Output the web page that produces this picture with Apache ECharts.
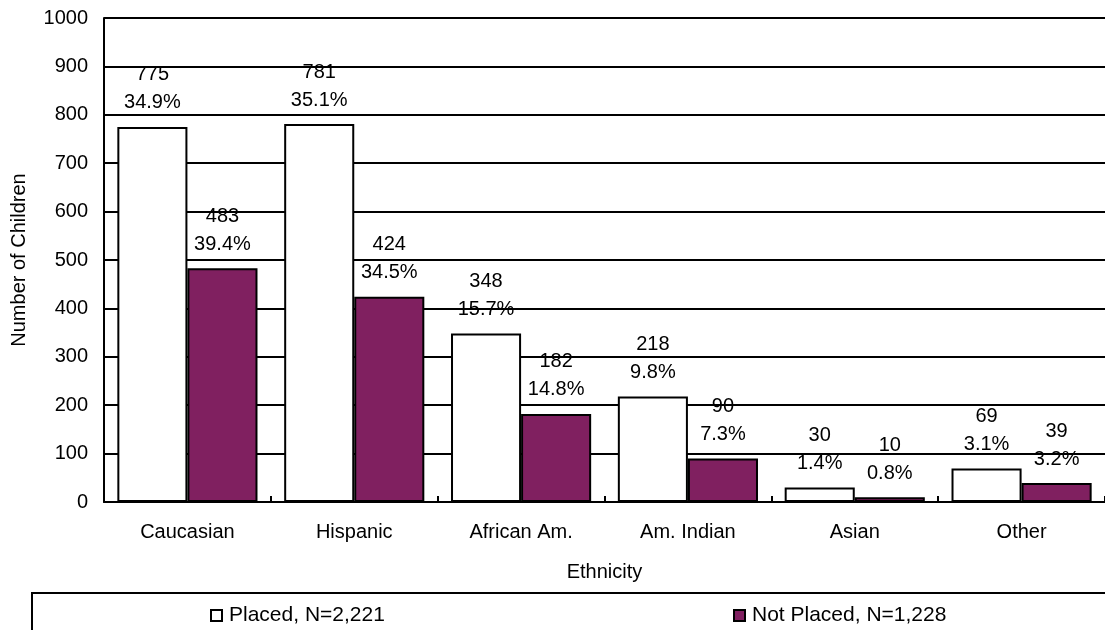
<!DOCTYPE html>
<html>
<head>
<meta charset="utf-8">
<script src="https://cdn.jsdelivr.net/npm/echarts@6/dist/echarts.min.js"></script>
<style>
  html, body { margin: 0; padding: 0; background: #fff; }
  #main_01 { width: 1105px; height: 630px; }
</style>
</head>
<body>
<div id="main_01"></div>
<script>
  // values
  let categories = ['Caucasian', 'Hispanic', 'African Am.', 'Am. Indian', 'Asian', 'Other'];
  let placed = [775, 781, 348, 218, 30, 69];
  let notPlaced = [483, 424, 182, 90, 10, 39];
  let placedPct = ['34.9%', '35.1%', '15.7%', '9.8%', '1.4%', '3.1%'];
  let notPlacedPct = ['39.4%', '34.5%', '14.8%', '7.3%', '0.8%', '3.2%'];
  let yTicks = [0, 100, 200, 300, 400, 500, 600, 700, 800, 900, 1000];

  let font = 'Liberation Sans, Arial, sans-serif';

  let chart = echarts.init(document.getElementById('main_01'));

  function barLabel(pcts) {
    return {
      show: true,
      position: 'top',
      distance: 10,
      color: '#000',
      fontFamily: font,
      fontSize: 20,
      lineHeight: 28,
      formatter: function (p) {
        return p.value + '\n' + pcts[p.dataIndex];
      }
    };
  }

  let legendText = { fontFamily: font, fontSize: 21, color: '#000', padding: [0, 0, 0, 2] };

  let option = {
    animation: false,
    textStyle: { fontFamily: font },
    grid: { left: 104, right: 0, top: 18, bottom: 128, containLabel: false },
    graphic: [{
      type: 'rect',
      shape: { x: 32, y: 593, width: 1100, height: 60 },
      style: { fill: 'none', stroke: '#000', lineWidth: 2 }
    }],
    legend: [{
      data: ['Placed, N=2,221'],
      left: 205, top: 600,
      itemWidth: 11, itemHeight: 11,
      icon: 'rect',
      textStyle: legendText
    }, {
      data: ['Not Placed, N=1,228'],
      left: 728, top: 600,
      itemWidth: 11, itemHeight: 11,
      icon: 'rect',
      textStyle: legendText
    }],
    xAxis: {
      type: 'category',
      data: categories,
      name: 'Ethnicity',
      nameLocation: 'middle',
      nameGap: 60,
      nameTextStyle: { fontFamily: font, fontSize: 20, color: '#000' },
      axisLine: { lineStyle: { color: '#000', width: 2 } },
      axisTick: { show: true, inside: true, length: 6, lineStyle: { color: '#000', width: 2 } },
      axisLabel: { fontFamily: font, fontSize: 20, color: '#000', margin: 20 }
    },
    yAxis: {
      type: 'value',
      min: yTicks[0],
      max: yTicks[yTicks.length - 1],
      interval: yTicks[1] - yTicks[0],
      name: 'Number of Children',
      nameLocation: 'middle',
      nameGap: 75,
      nameTextStyle: { fontFamily: font, fontSize: 20, color: '#000' },
      axisLine: { show: true, lineStyle: { color: '#000', width: 2 } },
      axisTick: { show: false },
      axisLabel: {
        fontFamily: font, fontSize: 20, color: '#000', margin: 16,
        formatter: function (v) { return String(v); }
      },
      splitLine: { lineStyle: { color: '#000', width: 2 } }
    },
    series: [{
      name: 'Placed, N=2,221',
      type: 'bar',
      data: placed,
      barGap: '0%',
      barCategoryGap: '16%',
      itemStyle: { color: '#fff', borderColor: '#000', borderWidth: 2 },
      label: barLabel(placedPct)
    }, {
      name: 'Not Placed, N=1,228',
      type: 'bar',
      data: notPlaced,
      itemStyle: { color: '#802060', borderColor: '#000', borderWidth: 2 },
      label: barLabel(notPlacedPct)
    }]
  };
  chart.setOption(option);
</script>
</body>
</html>
